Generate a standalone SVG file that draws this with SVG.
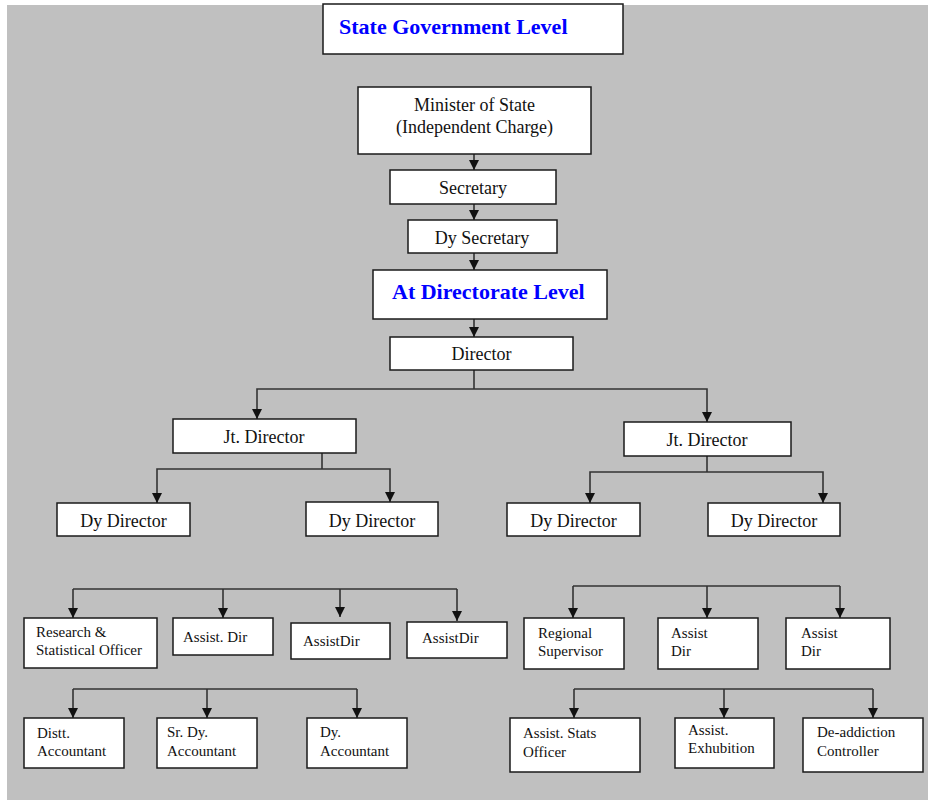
<svg xmlns="http://www.w3.org/2000/svg" width="928" height="800" viewBox="0 0 928 800">
  <defs>
    <marker id="arrow" markerUnits="userSpaceOnUse" markerWidth="10" markerHeight="10" refX="10" refY="5" orient="auto">
      <path d="M0,0 L10,5 L0,10 z" fill="#111"/>
    </marker>
    <style>
      .box { fill: #ffffff; stroke: #1a1a1a; stroke-width: 1.5; }
      .lbl { font-family: "Liberation Serif", "Times New Roman", serif; font-size: 18px; fill: #111; text-anchor: middle; }
      .sm { font-family: "Liberation Serif", "Times New Roman", serif; font-size: 15px; fill: #111; }
      .head { font-family: "Liberation Serif", "Times New Roman", serif; font-size: 22px; font-weight: bold; fill: #0000ff; }
      .conn path { fill: none; stroke: #333; stroke-width: 1.6; }
      .conn path.arr { marker-end: url(#arrow); }
    </style>
  </defs>

  <!-- page -->
  <rect x="0" y="0" width="928" height="800" fill="#ffffff"/>
  <rect x="7" y="5" width="921" height="795" fill="#c0c0c0"/>

  <!-- connectors -->
  <g id="connectors" class="conn">
    <path class="arr" d="M474,154 V170"/>
    <path class="arr" d="M474,204 V220"/>
    <path class="arr" d="M474,253 V270"/>
    <path class="arr" d="M474,319 V337"/>
    <path d="M474,370 V389"/>
    <path class="arr" d="M474,389 H257 V419"/>
    <path class="arr" d="M474,389 H707 V422"/>
    <path d="M322,453 V469"/>
    <path class="arr" d="M322,469 H157 V503"/>
    <path class="arr" d="M322,469 H390 V502"/>
    <path d="M707,456 V472"/>
    <path class="arr" d="M707,472 H590 V503"/>
    <path class="arr" d="M707,472 H823 V503"/>
    <path d="M73,589 H457"/>
    <path class="arr" d="M73,589 V618"/>
    <path class="arr" d="M223,589 V618"/>
    <path class="arr" d="M340,589 V617"/>
    <path class="arr" d="M457,589 V621"/>
    <path d="M573,586 H840"/>
    <path class="arr" d="M573,586 V618"/>
    <path class="arr" d="M707,586 V618"/>
    <path class="arr" d="M840,586 V618"/>
    <path d="M73,689 H357"/>
    <path class="arr" d="M73,689 V718"/>
    <path class="arr" d="M207,689 V718"/>
    <path class="arr" d="M357,689 V718"/>
    <path d="M574,689 H873"/>
    <path class="arr" d="M574,689 V718"/>
    <path class="arr" d="M724,689 V718"/>
    <path class="arr" d="M873,689 V718"/>
  </g>

  <!-- state level -->
  <g id="state-level">
    <rect class="box" x="323" y="4" width="300" height="50"/>
    <text class="head" x="339" y="34">State Government Level</text>
  </g>
  <g id="minister">
    <rect class="box" x="358" y="87" width="233" height="67"/>
    <text class="lbl" x="474.5" y="111">Minister of State</text>
    <text class="lbl" x="474.5" y="133">(Independent Charge)</text>
  </g>
  <g id="secretary">
    <rect class="box" x="390" y="170" width="166" height="34"/>
    <text class="lbl" x="473" y="194">Secretary</text>
  </g>
  <g id="dy-secretary">
    <rect class="box" x="408" y="220" width="149" height="33"/>
    <text class="lbl" x="482" y="244">Dy Secretary</text>
  </g>
  <g id="directorate-level">
    <rect class="box" x="373" y="270" width="234" height="49"/>
    <text class="head" x="392" y="299">At Directorate Level</text>
  </g>
  <g id="director">
    <rect class="box" x="390" y="337" width="183" height="33"/>
    <text class="lbl" x="481.5" y="360">Director</text>
  </g>

  <!-- joint directors -->
  <g id="jt-director-left">
    <rect class="box" x="173" y="419" width="183" height="34"/>
    <text class="lbl" x="264" y="443">Jt. Director</text>
  </g>
  <g id="jt-director-right">
    <rect class="box" x="624" y="422" width="167" height="34"/>
    <text class="lbl" x="707" y="446">Jt. Director</text>
  </g>

  <!-- deputy directors -->
  <g id="dy-director-1">
    <rect class="box" x="57" y="503" width="133" height="33"/>
    <text class="lbl" x="123.5" y="527">Dy Director</text>
  </g>
  <g id="dy-director-2">
    <rect class="box" x="306" y="502" width="132" height="34"/>
    <text class="lbl" x="372" y="527">Dy Director</text>
  </g>
  <g id="dy-director-3">
    <rect class="box" x="507" y="503" width="133" height="33"/>
    <text class="lbl" x="573.5" y="527">Dy Director</text>
  </g>
  <g id="dy-director-4">
    <rect class="box" x="708" y="503" width="132" height="33"/>
    <text class="lbl" x="774" y="527">Dy Director</text>
  </g>

  <!-- third row, left -->
  <g id="research-officer">
    <rect class="box" x="24" y="618" width="133" height="50"/>
    <text class="sm" x="36" y="637">Research &amp;</text>
    <text class="sm" x="36" y="655">Statistical Officer</text>
  </g>
  <g id="assist-dir-1">
    <rect class="box" x="173" y="618" width="100" height="37"/>
    <text class="sm" x="183" y="642">Assist. Dir</text>
  </g>
  <g id="assist-dir-2">
    <rect class="box" x="291" y="623" width="99" height="36"/>
    <text class="sm" x="303" y="646">AssistDir</text>
  </g>
  <g id="assist-dir-3">
    <rect class="box" x="407" y="622" width="100" height="36"/>
    <text class="sm" x="422" y="643">AssistDir</text>
  </g>

  <!-- third row, right -->
  <g id="regional-supervisor">
    <rect class="box" x="524" y="618" width="100" height="51"/>
    <text class="sm" x="538" y="638">Regional</text>
    <text class="sm" x="538" y="656">Supervisor</text>
  </g>
  <g id="assist-dir-4">
    <rect class="box" x="658" y="618" width="100" height="51"/>
    <text class="sm" x="671" y="638">Assist</text>
    <text class="sm" x="671" y="656">Dir</text>
  </g>
  <g id="assist-dir-5">
    <rect class="box" x="786" y="618" width="104" height="51"/>
    <text class="sm" x="801" y="638">Assist</text>
    <text class="sm" x="801" y="656">Dir</text>
  </g>

  <!-- fourth row, left -->
  <g id="distt-accountant">
    <rect class="box" x="24" y="718" width="100" height="50"/>
    <text class="sm" x="37" y="738">Distt.</text>
    <text class="sm" x="37" y="756">Accountant</text>
  </g>
  <g id="sr-dy-accountant">
    <rect class="box" x="157" y="718" width="100" height="50"/>
    <text class="sm" x="167" y="737">Sr. Dy.</text>
    <text class="sm" x="167" y="756">Accountant</text>
  </g>
  <g id="dy-accountant">
    <rect class="box" x="307" y="718" width="100" height="50"/>
    <text class="sm" x="320" y="737">Dy.</text>
    <text class="sm" x="320" y="756">Accountant</text>
  </g>

  <!-- fourth row, right -->
  <g id="assist-stats-officer">
    <rect class="box" x="510" y="718" width="130" height="54"/>
    <text class="sm" x="523" y="738">Assist. Stats</text>
    <text class="sm" x="523" y="757">Officer</text>
  </g>
  <g id="assist-exhibition">
    <rect class="box" x="675" y="718" width="99" height="50"/>
    <text class="sm" x="688" y="735">Assist.</text>
    <text class="sm" x="688" y="753">Exhubition</text>
  </g>
  <g id="deaddiction-controller">
    <rect class="box" x="803" y="718" width="120" height="54"/>
    <text class="sm" x="817" y="737">De-addiction</text>
    <text class="sm" x="817" y="756">Controller</text>
  </g>
</svg>
